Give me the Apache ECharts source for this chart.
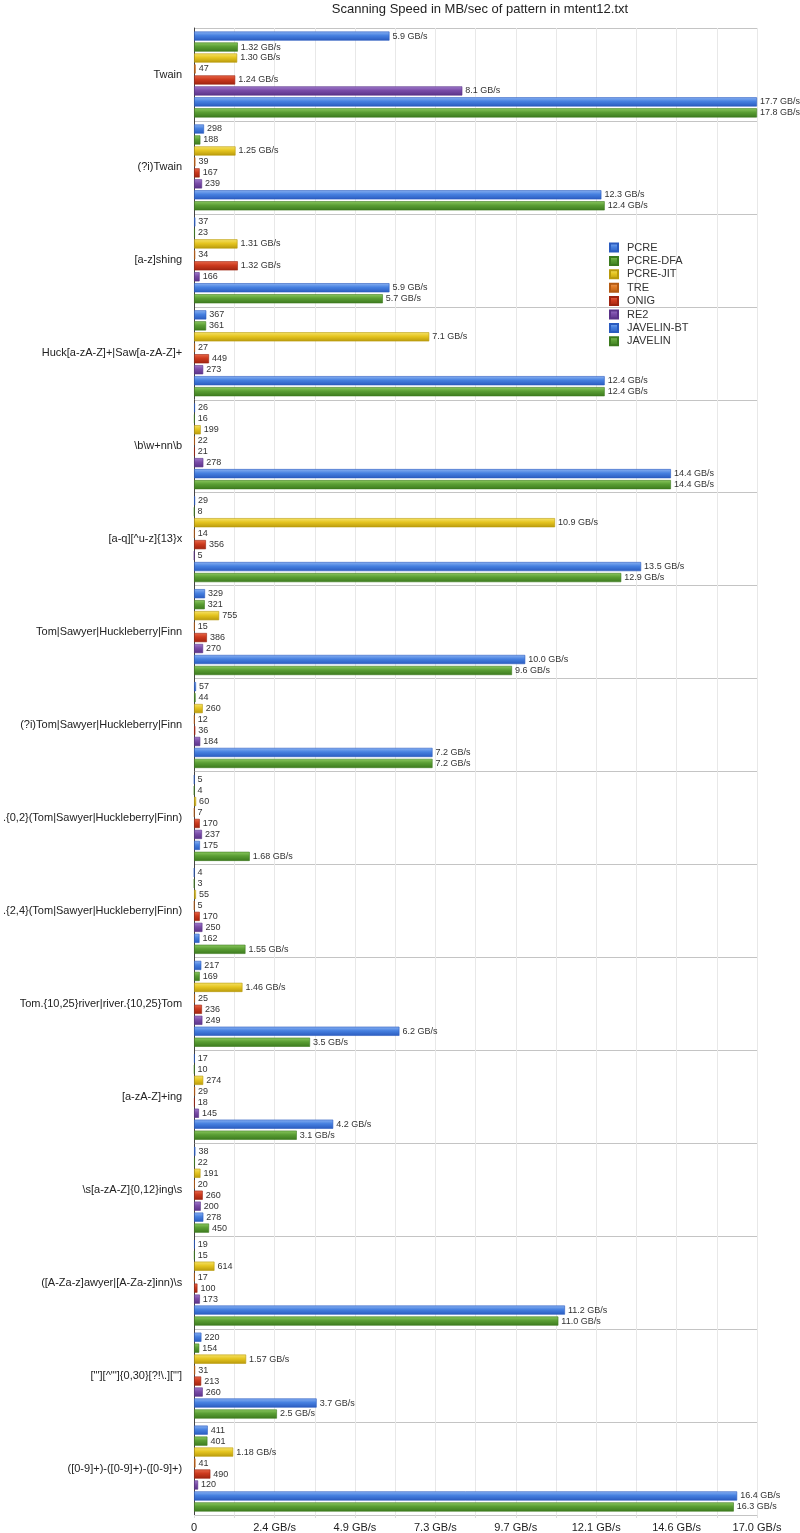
<!DOCTYPE html>
<html><head><meta charset="utf-8">
<script src="https://cdn.jsdelivr.net/npm/echarts@6/dist/echarts.min.js"></script>
<style>html,body{margin:0;padding:0;background:#fff}#c{width:800px;height:1533px}</style>
</head><body><div id="c"></div>
<script>
const title = 'Scanning Speed in MB/sec of pattern in mtent12.txt';
const categories = [
  'Twain', '(?i)Twain', '[a-z]shing', 'Huck[a-zA-Z]+|Saw[a-zA-Z]+', '\\b\\w+nn\\b',
  '[a-q][^u-z]{13}x', 'Tom|Sawyer|Huckleberry|Finn', '(?i)Tom|Sawyer|Huckleberry|Finn',
  '.{0,2}(Tom|Sawyer|Huckleberry|Finn)', '.{2,4}(Tom|Sawyer|Huckleberry|Finn)',
  'Tom.{10,25}river|river.{10,25}Tom', '[a-zA-Z]+ing', '\\s[a-zA-Z]{0,12}ing\\s',
  '([A-Za-z]awyer|[A-Za-z]inn)\\s', '["\'][^"\']{0,30}[?!\\.]["\']', '([0-9]+)-([0-9]+)-([0-9]+)'
];
const seriesNames = ['PCRE', 'PCRE-DFA', 'PCRE-JIT', 'TRE', 'ONIG', 'RE2', 'JAVELIN-BT', 'JAVELIN'];
// MB/s
const pcre      = [5900, 298, 37, 367, 26, 29, 329, 57, 5, 4, 217, 17, 38, 19, 220, 411];
const pcreDfa   = [1320, 188, 23, 361, 16, 8, 321, 44, 4, 3, 169, 10, 22, 15, 154, 401];
const pcreJit   = [1300, 1250, 1310, 7100, 199, 10900, 755, 260, 60, 55, 1460, 274, 191, 614, 1570, 1180];
const tre       = [47, 39, 34, 27, 22, 14, 15, 12, 7, 5, 25, 29, 20, 17, 31, 41];
const onig      = [1240, 167, 1320, 449, 21, 356, 386, 36, 170, 170, 236, 18, 260, 100, 213, 490];
const re2       = [8100, 239, 166, 273, 278, 5, 270, 184, 237, 250, 249, 145, 200, 173, 260, 120];
const javelinBt = [17700, 12300, 5900, 12400, 14400, 13500, 10000, 7200, 175, 162, 6200, 4200, 278, 11200, 3700, 16400];
const javelin   = [17800, 12400, 5700, 12400, 14400, 12900, 9600, 7200, 1680, 1550, 3500, 3100, 450, 11000, 2500, 16300];
const seriesValues = [pcre, pcreDfa, pcreJit, tre, onig, re2, javelinBt, javelin];

const X_MAX = 17000;
const palette = [
  ['#8ab2f2', '#4680e0', '#2a5bbf'],
  ['#8cc860', '#5a9e34', '#3c7a1e'],
  ['#f6e36a', '#e5c520', '#b99a0c'],
  ['#f0a060', '#e07a24', '#b45a12'],
  ['#e8684a', '#cc3a1e', '#9e2410'],
  ['#a07ccc', '#7a4ca8', '#5a3288'],
  ['#8ab2f2', '#4680e0', '#2a5bbf'],
  ['#8cc860', '#5a9e34', '#3c7a1e']
];
const FONT = '"Liberation Sans", Arial, sans-serif';

function fmt(v) {
  if (v < 1000) return String(v);
  const g = v / 1000;
  return (v < 2000 ? g.toFixed(2) : g.toFixed(1)) + ' GB/s';
}

const chart = echarts.init(document.getElementById('c'), null, {renderer: 'canvas'});
chart.setOption({
  backgroundColor: '#fff',
  animation: false,
  textStyle: {fontFamily: FONT},
  title: {
    text: title, left: 475, top: -2, textAlign: 'center',
    textStyle: {fontSize: 13, fontWeight: 'normal', color: '#222', fontFamily: FONT}
  },
  legend: {
    orient: 'vertical', left: 604, top: 237,
    itemWidth: 8, itemHeight: 8, itemGap: 2.4,
    icon: 'rect',
    data: seriesNames,
    textStyle: {fontSize: 11, color: '#333', fontFamily: FONT, padding: [0, 0, 0, 4]}
  },
  grid: {left: 193, right: 43, top: 28, bottom: 18, containLabel: false},
  xAxis: {
    type: 'value', min: 0, max: X_MAX, interval: X_MAX / 7,
    axisLine: {show: false},
    axisTick: {show: true, length: 3, lineStyle: {color: '#ddd'}},
    minorTick: {show: true, splitNumber: 2, length: 3, lineStyle: {color: '#ddd'}},
    splitLine: {show: true, lineStyle: {color: '#e8e8e8'}},
    minorSplitLine: {show: true, lineStyle: {color: '#e8e8e8'}},
    axisLabel: {
      fontSize: 11, color: '#222', margin: 7, fontFamily: FONT,
      formatter: v => v === 0 ? '0' : (v / 1000).toFixed(1) + ' GB/s'
    }
  },
  yAxis: {
    type: 'category', inverse: true, data: categories,
    axisLine: {show: true, lineStyle: {color: '#444'}},
    axisTick: {show: false},
    splitLine: {show: true, lineStyle: {color: '#c4c4c4'}},
    axisLabel: {fontSize: 11, color: '#222', margin: 12, fontFamily: FONT}
  },
  series: seriesNames.map((name, i) => ({
    name, type: 'bar',
    barCategoryGap: 7, barGap: '20%',
    clip: true,
    data: seriesValues[i].map(v => Math.min(v, X_MAX)),
    itemStyle: {
      color: new echarts.graphic.LinearGradient(0, 0, 0, 1, [
        {offset: 0, color: palette[i][0]},
        {offset: 0.45, color: palette[i][1]},
        {offset: 1, color: palette[i][2]}
      ]),
      borderColor: palette[i][2], borderWidth: 0.6
    },
    label: {
      show: true, position: 'right', distance: 3,
      fontSize: 9, color: '#333', fontFamily: FONT,
      formatter: p => fmt(seriesValues[i][p.dataIndex])
    }
  }))
});
</script></body></html>
